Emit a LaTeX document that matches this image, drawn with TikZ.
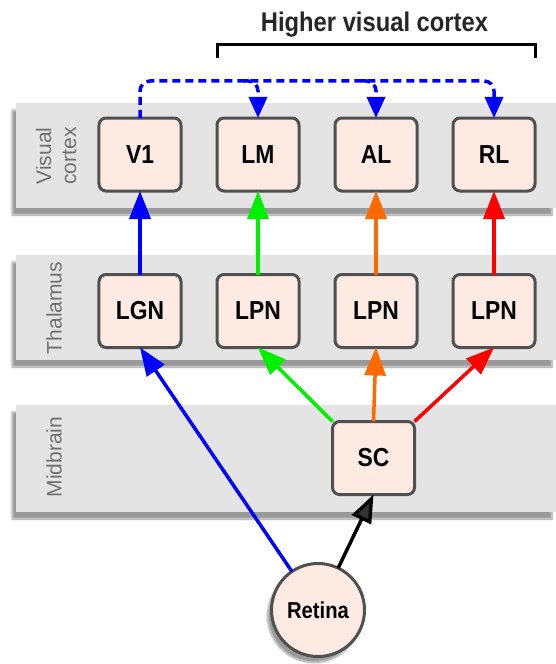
\documentclass[tikz,border=0pt]{standalone}
\usepackage{fontspec}
\setmainfont{Liberation Sans}
\newfontfamily\narrowsans[FakeStretch=0.88]{Liberation Sans}
\usetikzlibrary{matrix,arrows.meta,shadows.blur}

\definecolor{boxfill}{HTML}{FDEBE3}
\definecolor{boxline}{HTML}{505050}
\definecolor{bandfill}{HTML}{E4E4E4}
\definecolor{bandtext}{HTML}{707070}
\definecolor{pathgreen}{HTML}{00F000}
\definecolor{pathorange}{HTML}{FF6A00}

\begin{document}
\begin{tikzpicture}[x=1bp, y=-1bp, every node/.style={font=\narrowsans\fontsize{26bp}{30bp}\selectfont\bfseries}, >={Triangle[length=28bp, width=21bp]},
	area/.style={draw=boxline, fill=boxfill, line width=3bp, rounded corners=7bp, minimum width=82bp, minimum height=73bp, inner sep=0pt, outer sep=0pt, anchor=center},
	band/.style={fill=bandfill, blur shadow={shadow xshift=-4bp, shadow yshift=-7bp, shadow blur steps=6}},
	bandlabel/.style={rotate=90, align=center, text=bandtext, font=\fontsize{21bp}{25bp}\selectfont},
	link/.style={->, line width=3.5bp},
	dashlink/.style={-{Triangle[length=21bp, width=18bp]}, blue, line width=3.5bp, dash pattern=on 8bp off 5bp, rounded corners=10bp}]
	\useasboundingbox (0,0) rectangle (556,664);
	% brain levels
	\path[band] (16,103) rectangle (556,208);
	\path[band] (16,255) rectangle (556,360);
	\path[band] (16,405) rectangle (556,512);
	\node[bandlabel] (lblVis) at (56,156) {Visual\\cortex};
	\node[bandlabel] (lblTha) at (54,308) {Thalamus};
	\node[bandlabel] (lblMid) at (54,457) {Midbrain};
	% areas
	\matrix (M) [matrix of nodes, nodes={area}, column sep=33bp, row sep=80.5bp, inner sep=0pt] at (317,232.75) {
		|(v1)| V1 & |(lm)| LM & |(al)| AL & |(rl)| RL \\
		|(lgn)| LGN & |(lpnA)| LPN & |(lpnB)| LPN & |(lpnC)| LPN \\
	};
	\node[area] (sc) at (373.5,458) {SC};
	\node[area, circle, minimum size=93bp, font=\narrowsans\fontsize{23bp}{27bp}\selectfont\bfseries, blur shadow={shadow xshift=-4bp, shadow yshift=-6bp, shadow blur steps=6}] (retina) at (318,610) {Retina};
	\node[anchor=base, text=black!85, font=\narrowsans\fontsize{27bp}{31bp}\selectfont\bfseries] (title) at (374.5,32) {Higher visual cortex};
	\draw[line width=3bp] (lm.west |- 0,58) |- (rl.east |- 0,45) -- (rl.east |- 0,58);
	% feedforward pathways
	\draw[link, blue] (retina) -- (lgn.south);
	\draw[link] (retina) -- (sc.south);
	\draw[link, pathgreen] (sc.north west) -- (lpnA.south);
	\draw[link, pathorange] (sc.north) -- (lpnB.south);
	\draw[link, red] (sc.north east) -- (lpnC.south);
	\draw[link, blue] (lgn.north) -- (v1.south);
	\draw[link, pathgreen] (lpnA.north) -- (lm.south);
	\draw[link, pathorange] (lpnB.north) -- (al.south);
	\draw[link, red] (lpnC.north) -- (rl.south);
	% cortico-cortical
	\coordinate (top) at (0,81);
	\draw[dashlink] (v1.north) |- (rl.north |- top) -- (rl.north);
	\draw[dashlink] (lm.north |- top) ++(-14,0) -| (lm.north);
	\draw[dashlink] (al.north |- top) ++(-14,0) -| (al.north);
\end{tikzpicture}
\end{document}
